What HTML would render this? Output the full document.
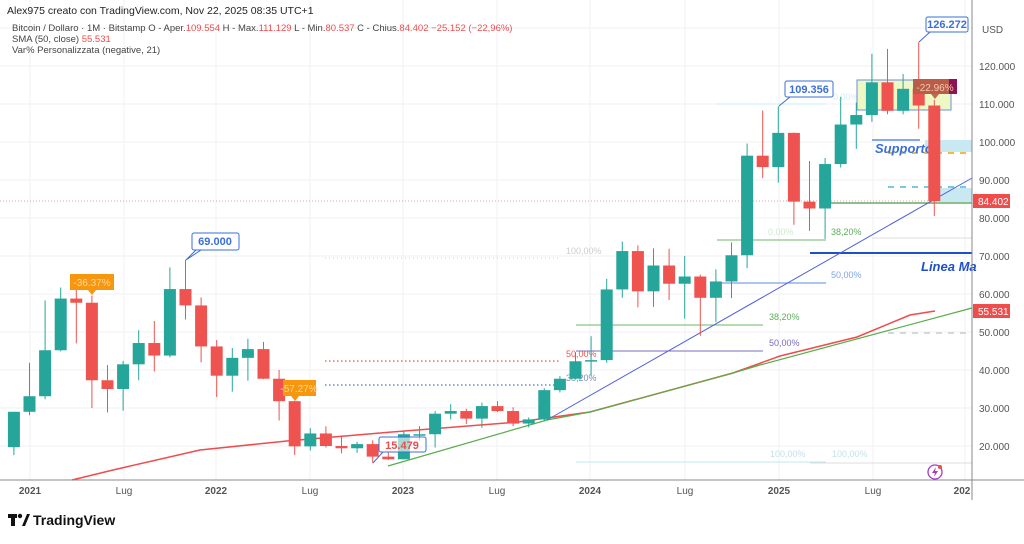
<!DOCTYPE html>
<html><head><meta charset="utf-8"><style>
body{margin:0;background:#fff;width:1024px;height:539px;overflow:hidden;font-family:"Liberation Sans",sans-serif}
svg text{font-family:"Liberation Sans",sans-serif}
</style></head><body>
<svg id="c" width="1024" height="539" viewBox="0 0 1024 539" xmlns="http://www.w3.org/2000/svg">
<g id="grid" stroke="#f0f2f6" stroke-width="1"></g>
<!-- fib / drawing lines -->
<line x1="0" y1="201" x2="972" y2="201" stroke="#f29a9a" stroke-width="1" stroke-dasharray="1,2"/>
<line x1="325" y1="258" x2="560" y2="258" stroke="#ccc" stroke-dasharray="1,3"/>
<line x1="325" y1="361" x2="560" y2="361" stroke="#e55" stroke-dasharray="1.5,2.5" stroke-width="1.3"/>
<line x1="325" y1="385" x2="560" y2="385" stroke="#4a6fd0" stroke-dasharray="1.5,2.5" stroke-width="1.3"/>
<text x="566" y="254" font-size="9" fill="#ccc">100,00%</text>
<text x="566" y="357" font-size="9" fill="#e55">50,00%</text>
<text x="566" y="381" font-size="9" fill="#7a8fb8">38,20%</text>
<line x1="576" y1="325" x2="763" y2="325" stroke="#6ab96a"/>
<line x1="576" y1="351" x2="763" y2="351" stroke="#7b6ac0"/>
<line x1="576" y1="462" x2="826" y2="462" stroke="#bfe8ef"/>
<line x1="810" y1="463" x2="972" y2="463" stroke="#ddd"/>
<text x="769" y="320" font-size="9" fill="#5aac5a">38,20%</text>
<text x="769" y="346" font-size="9" fill="#7b6ac0">50,00%</text>
<text x="770" y="457" font-size="9" fill="#bfe3ea">100,00%</text>
<text x="832" y="457" font-size="9" fill="#bfe3ea">100,00%</text>
<line x1="716" y1="104" x2="826" y2="104" stroke="#c7eef3"/>
<text x="833" y="100" font-size="9" fill="#d5eef2">0,00%</text>
<line x1="717" y1="240" x2="826" y2="240" stroke="#6ab96a"/>
<text x="768" y="235" font-size="9" fill="#cfe8cf">0,00%</text>
<text x="831" y="235" font-size="9" fill="#5aac5a">38,20%</text>
<line x1="715" y1="283" x2="826" y2="283" stroke="#5b8ce0"/>
<text x="831" y="278" font-size="9" fill="#7ea6e8">50,00%</text>
<line x1="872" y1="238" x2="972" y2="238" stroke="#ddd"/>
<line x1="810" y1="253" x2="972" y2="253" stroke="#1f4fc8" stroke-width="2"/>
<text x="921" y="271" font-size="13" font-weight="bold" font-style="italic" fill="#1f4fc8">Linea Ma</text>
<rect x="925" y="140" width="47" height="12" fill="#c8e9f1"/>
<line x1="872" y1="140" x2="920" y2="140" stroke="#5b8ce0" stroke-width="1.5"/>
<line x1="888" y1="153" x2="972" y2="153" stroke="#f5b942" stroke-width="2" stroke-dasharray="6,6"/>
<text x="875" y="153" font-size="13" font-weight="bold" font-style="italic" fill="#3a6fd8">Supporto</text>
<line x1="888" y1="187" x2="972" y2="187" stroke="#4cb8d0" stroke-width="1.5" stroke-dasharray="6,6"/>
<rect x="940" y="188" width="32" height="14" fill="#c8e9f1"/>
<line x1="820" y1="203" x2="972" y2="203" stroke="#4a9a4a" stroke-width="1.3"/>
<line x1="888" y1="333" x2="972" y2="333" stroke="#ccc" stroke-width="1.5" stroke-dasharray="6,6"/>
<rect x="857" y="80" width="94" height="30" fill="#eef8c4" stroke="#6b8ee0" stroke-width="1"/>
<!-- MAs -->
<polyline fill="none" stroke="#ef4c4c" stroke-width="1.5" points="72,480 113,470 200,450 287,441 380,433 518,422 590,412 733,373 780,356 857,337 910,315 935,311"/>
<polyline fill="none" stroke="#5aac4a" stroke-width="1.2" points="388,466 547,420 590,412 733,373 760,365 972,308"/>
<line x1="547" y1="420" x2="972" y2="178" stroke="#5060d8" stroke-width="1"/>
<g id="candles"></g>
<!-- callouts -->
<rect x="192" y="233" width="47" height="17" rx="2" fill="#fff" stroke="#3a6fd8"/>
<path d="M196,250 L186,260 M201,250 L186,260" stroke="#3a6fd8"/>
<text x="215" y="245" font-size="11" font-weight="bold" fill="#3a6fd8" text-anchor="middle">69.000</text>
<rect x="70" y="274" width="44" height="16" fill="#f7960f"/>
<path d="M88,290 L92,295 L96,290Z" fill="#f7960f"/>
<text x="92" y="286" font-size="10" fill="#ffd9a0" text-anchor="middle">-36.37%</text>
<rect x="283" y="380" width="33" height="16" fill="#f7960f"/>
<path d="M291,396 L295,401 L299,396Z" fill="#f7960f"/>
<text x="299" y="392" font-size="10" fill="#ffd9a0" text-anchor="middle">-57.27%</text>
<rect x="379" y="437" width="47" height="15" rx="2" fill="rgba(255,255,255,0.6)" stroke="#3a6fd8"/>
<line x1="383" y1="452" x2="373" y2="463" stroke="#3a6fd8"/>
<text x="402" y="449" font-size="11" font-weight="bold" fill="#ef4c4c" text-anchor="middle">15.479</text>
<rect x="785" y="81" width="48" height="16" rx="2" fill="#fff" stroke="#3a6fd8"/>
<line x1="790" y1="97" x2="779" y2="106" stroke="#3a6fd8"/>
<text x="809" y="93" font-size="11" font-weight="bold" fill="#3a6fd8" text-anchor="middle">109.356</text>
<rect x="926" y="17" width="42" height="15" rx="2" fill="#fff" stroke="#3a6fd8"/>
<line x1="930" y1="32" x2="919" y2="42" stroke="#3a6fd8"/>
<text x="947" y="28" font-size="11" font-weight="bold" fill="#3a6fd8" text-anchor="middle">126.272</text>
<rect x="913" y="79" width="44" height="15" fill="#8c1450"/>
<rect x="913" y="79" width="36" height="15" fill="#c06a48" opacity="0.85"/>
<path d="M931,94 L935,99 L939,94Z" fill="#c06a48"/>
<text x="935" y="91" font-size="10" fill="#f3c9a8" text-anchor="middle">-22.96%</text>
<!-- axes -->
<line x1="0" y1="480" x2="1024" y2="480" stroke="#888"/>
<line x1="972" y1="0" x2="972" y2="500" stroke="#888"/>
<g font-size="10" fill="#555">
<text x="982" y="33">USD</text>
<text x="979" y="70">120.000</text><text x="979" y="108">110.000</text><text x="979" y="146">100.000</text>
<text x="979" y="184">90.000</text><text x="979" y="222">80.000</text><text x="979" y="260">70.000</text>
<text x="979" y="298">60.000</text><text x="979" y="336">50.000</text><text x="979" y="374">40.000</text>
<text x="979" y="412">30.000</text><text x="979" y="450">20.000</text>
</g>
<rect x="973" y="194" width="37" height="14" fill="#ef4c4c"/>
<text x="978" y="205" font-size="10" fill="#fff">84.402</text>
<rect x="973" y="304" width="37" height="14" fill="#ef4c4c"/>
<text x="978" y="315" font-size="10" fill="#fff">55.531</text>
<g font-size="10" fill="#555" text-anchor="middle">
<text x="30" y="494" font-weight="bold">2021</text><text x="124" y="494">Lug</text>
<text x="216" y="494" font-weight="bold">2022</text><text x="310" y="494">Lug</text>
<text x="403" y="494" font-weight="bold">2023</text><text x="497" y="494">Lug</text>
<text x="590" y="494" font-weight="bold">2024</text><text x="685" y="494">Lug</text>
<text x="779" y="494" font-weight="bold">2025</text><text x="873" y="494">Lug</text>
<text x="962" y="494" font-weight="bold">202</text>
</g>
<circle cx="935" cy="472" r="7" fill="none" stroke="#a03cc8" stroke-width="1.3"/>
<path d="M936,467 L932,473 L935,473 L934,477 L938,471 L935,471Z" fill="#a03cc8"/>
<circle cx="940" cy="467" r="2" fill="#ef4c4c"/>
<!-- header -->
<text x="7" y="14" font-size="10.5" fill="#222">Alex975 creato con TradingView.com, Nov 22, 2025 08:35 UTC+1</text>
<text x="12" y="31" font-size="9.5" fill="#444">Bitcoin / Dollaro · 1M · Bitstamp  O - Aper.<tspan fill="#ef4c4c">109.554</tspan>  H - Max.<tspan fill="#ef4c4c">111.129</tspan>  L - Min.<tspan fill="#ef4c4c">80.537</tspan>  C - Chius.<tspan fill="#ef4c4c">84.402  −25.152 (−22,96%)</tspan></text>
<text x="12" y="42" font-size="9.5" fill="#444">SMA (50, close)  <tspan fill="#ef4c4c">55.531</tspan></text>
<text x="12" y="53" font-size="9.5" fill="#444">Var% Personalizzata (negative, 21)</text>
<!-- logo -->
<rect x="8" y="514" width="9" height="4" fill="#111"/><rect x="11" y="514" width="4" height="12" fill="#111"/>
<circle cx="20" cy="516" r="2.2" fill="#111"/><path d="M22,526 L27,514 L30,514 L25,526Z" fill="#111"/>
<text x="33" y="525" font-size="14" font-weight="bold" fill="#111">TradingView</text>
</svg>
<script>
var ns="http://www.w3.org/2000/svg",g=document.getElementById('grid'),c=document.getElementById('candles');
function el(p,t,a){var e=document.createElementNS(ns,t);for(var k in a)e.setAttribute(k,a[k]);p.appendChild(e);return e;}
for(var i=0;i<12;i++){var y=28+38*i;el(g,'line',{x1:0,y1:y,x2:972,y2:y});}
[30,124,216,310,403,497,590,685,779,873,965].forEach(function(x){el(g,'line',{x1:x,y1:0,x2:x,y2:480});});
var d=[[19.7,29.0,17.6,29.0],[29.0,41.9,28.1,33.1],[33.1,58.3,32.3,45.2],[45.2,61.7,44.9,58.8],[58.8,64.9,47.0,57.7],[57.7,59.6,30.0,37.3],[37.3,41.3,28.8,35.0],[35.0,42.4,29.3,41.5],[41.5,50.5,37.3,47.1],[47.1,52.9,39.6,43.8],[43.8,67.0,43.3,61.3],[61.3,69.0,53.3,57.0],[57.0,59.1,42.0,46.2],[46.2,47.9,32.9,38.5],[38.5,45.8,34.3,43.2],[43.2,48.2,37.2,45.5],[45.5,47.4,37.6,37.7],[37.7,40.0,26.7,31.8],[31.8,31.9,17.6,19.9],[19.9,24.7,18.8,23.3],[23.3,25.2,19.6,20.0],[20.0,22.8,18.1,19.4],[19.4,21.1,18.2,20.5],[20.5,21.5,15.5,17.2],[17.2,18.4,16.3,16.5],[16.5,23.9,16.5,23.1],[23.1,25.2,21.4,23.1],[23.1,29.2,19.6,28.5],[28.5,31.0,27.0,29.2],[29.2,29.8,25.8,27.2],[27.2,31.4,24.8,30.5],[30.5,31.8,28.9,29.2],[29.2,30.2,25.2,25.9],[25.9,27.5,24.9,27.0],[27.0,35.2,26.6,34.7],[34.7,38.4,34.1,37.7],[37.7,44.7,37.6,42.3],[42.3,48.9,38.5,42.6],[42.6,64.0,41.9,61.2],[61.2,73.8,59.0,71.3],[71.3,72.8,56.5,60.7],[60.7,72.0,56.6,67.5],[67.5,71.9,58.4,62.7],[62.7,70.0,53.5,64.6],[64.6,65.1,49.0,59.0],[59.0,66.5,52.6,63.3],[63.3,73.6,58.9,70.2],[70.2,99.6,66.8,96.4],[96.4,108.3,90.5,93.4],[93.4,109.4,89.3,102.4],[102.4,102.5,78.2,84.3],[84.3,95.0,76.6,82.5],[82.5,95.8,74.5,94.2],[94.2,111.9,93.3,104.6],[104.6,110.4,98.2,107.1],[107.1,123.2,105.3,115.7],[115.7,124.5,107.3,108.2],[108.2,117.9,107.3,114.0],[114.0,126.3,103.5,109.6],[109.6,111.1,80.5,84.4]];
function Y(p){return 522-3.8*p;}
d.forEach(function(v,i){var x=13.9+15.6*i,up=v[3]>=v[0],col=up?'#26a69a':'#ef5350';
el(c,'line',{x1:x,y1:Y(v[1]),x2:x,y2:Y(v[2]),stroke:col,'stroke-width':1});
var t=Y(Math.max(v[0],v[3])),b=Y(Math.min(v[0],v[3]));el(c,'rect',{x:x-6,y:t,width:12,height:Math.max(b-t,1.5),fill:col});});
</script>
</body></html>
